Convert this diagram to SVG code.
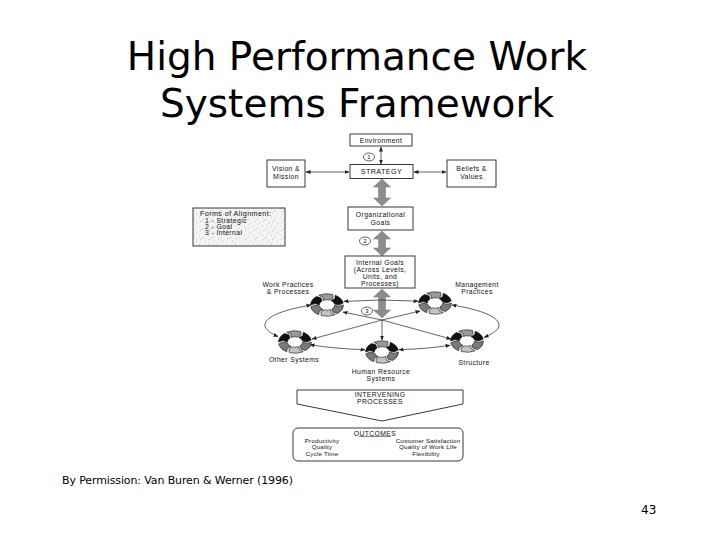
<svg xmlns="http://www.w3.org/2000/svg" width="728" height="546" viewBox="0 0 728 546">
<style>
.t{font-family:"Liberation Sans",Arial,sans-serif;font-size:6.8px;letter-spacing:0.4px;fill:#111;text-anchor:middle}
.tl{text-anchor:start}
.box{fill:#fff;stroke:#222;stroke-width:0.9}
.thin{fill:none;stroke:#222;stroke-width:0.7}
.big{fill:#8c8c8c;stroke:#777;stroke-width:0.5}
.title{font-family:"DejaVu Sans",Verdana,sans-serif;font-size:39px;fill:#000;text-anchor:middle}
.foot{font-family:"DejaVu Sans",Verdana,sans-serif;font-size:11px;fill:#000}
.num{fill:#fff;stroke:#222;stroke-width:0.7}
.seg{stroke:#111;stroke-width:0.6;vector-effect:non-scaling-stroke}
</style>
<defs>
<marker id="ah" viewBox="0 0 10 10" refX="9" refY="5" markerWidth="5" markerHeight="5" orient="auto-start-reverse" markerUnits="userSpaceOnUse"><path d="M0,1 L10,5 L0,9 Z" fill="#222"/></marker>
<pattern id="speck" width="9" height="9" patternUnits="userSpaceOnUse">
<rect width="9" height="9" fill="#f4f4f4"/>
<path d="M1,1 l1,0.5 M5,3 l0.5,1 M2,6 l1,-0.5 M7,7 l1,0.5 M6,0.5 l0.5,0.5 M3.5,4.5 l0.6,0" stroke="#999" stroke-width="0.6"/>
</pattern>
<g id="ring">
<path class="seg" d="M15,0 A15,15 0 0 1 9.64,11.49 L5.5,9.53 L4.5,5.36 A7,7 0 0 0 7,0 L10.83,1.91 Z" fill="#7a7a7a"/>
<path class="seg" d="M7.5,12.99 A15,15 0 0 1 -5.13,14.1 L-5.5,9.53 L-2.39,6.58 A7,7 0 0 0 3.5,6.06 L3.76,10.34 Z" fill="#c4c4c4"/>
<path class="seg" d="M-7.5,12.99 A15,15 0 0 1 -14.77,2.6 L-11,0 L-6.89,1.22 A7,7 0 0 0 -3.5,6.06 L-7.07,8.43 Z" fill="#7a7a7a"/>
<path class="seg" d="M-15,0 A15,15 0 0 1 -9.64,-11.49 L-5.5,-9.53 L-4.5,-5.36 A7,7 0 0 0 -7,0 L-10.83,-1.91 Z" fill="#111"/>
<path class="seg" d="M-7.5,-12.99 A15,15 0 0 1 5.13,-14.1 L5.5,-9.53 L2.39,-6.58 A7,7 0 0 0 -3.5,-6.06 L-3.76,-10.34 Z" fill="#9a9a9a"/>
<path class="seg" d="M7.5,-12.99 A15,15 0 0 1 14.77,-2.6 L11,0 L6.89,-1.22 A7,7 0 0 0 3.5,-6.06 L7.07,-8.43 Z" fill="#111"/>
</g>
</defs>
<rect width="728" height="546" fill="#fff"/>

<g id="title">
<text class="title" x="357" y="70">High Performance Work</text>
<text class="title" x="357" y="117">Systems Framework</text>
</g>

<g id="connectors">
<line class="thin" x1="381" y1="147" x2="381" y2="164" marker-start="url(#ah)" marker-end="url(#ah)"/>
<line class="thin" x1="306" y1="172" x2="349" y2="172" marker-start="url(#ah)" marker-end="url(#ah)"/>
<line class="thin" x1="414" y1="172" x2="446" y2="172" marker-start="url(#ah)" marker-end="url(#ah)"/>
<polygon class="big" points="382,179 390.5,187 385.5,187 385.5,198 390.5,198 382,206 373.5,198 378.5,198 378.5,187 373.5,187"/>
<polygon class="big" points="382,231 390.5,239 385.5,239 385.5,248 390.5,248 382,256 373.5,248 378.5,248 378.5,239 373.5,239"/>
<polygon class="big" points="382,289 390.5,297 385.5,297 385.5,310 390.5,310 382,318 373.5,310 378.5,310 378.5,297 373.5,297"/>
<path class="thin" d="M344,301.4 A117,25 0 0 1 418,301.2" marker-start="url(#ah)" marker-end="url(#ah)"/>
<path class="thin" d="M452,305 A117,25 0 0 1 484,337.3" marker-start="url(#ah)" marker-end="url(#ah)"/>
<path class="thin" d="M450,345.3 A117,25 0 0 1 399,349.7" marker-start="url(#ah)" marker-end="url(#ah)"/>
<path class="thin" d="M365,349.7 A117,25 0 0 1 310,344.7" marker-start="url(#ah)" marker-end="url(#ah)"/>
<path class="thin" d="M278,336.5 A117,25 0 0 1 311,305.1" marker-start="url(#ah)" marker-end="url(#ah)"/>
<line class="thin" x1="382" y1="320" x2="343" y2="312" marker-end="url(#ah)"/>
<line class="thin" x1="382" y1="320" x2="420" y2="311" marker-end="url(#ah)"/>
<line class="thin" x1="382" y1="320" x2="312" y2="339" marker-end="url(#ah)"/>
<line class="thin" x1="382" y1="320" x2="451" y2="339" marker-end="url(#ah)"/>
<line class="thin" x1="382" y1="320" x2="382" y2="340" marker-end="url(#ah)"/>
</g>

<g id="environment">
<rect class="box" x="350" y="134" width="62" height="12"/>
<text class="t" x="381" y="142.5">Environment</text>
</g>
<g id="strategy">
<rect class="box" x="350" y="164.5" width="63" height="14"/>
<text class="t" x="381.5" y="174" style="font-size:7.2px">STRATEGY</text>
</g>
<g id="vision">
<rect class="box" x="267" y="160" width="38" height="27"/>
<text class="t" x="286" y="171">Vision &amp;</text>
<text class="t" x="286" y="178.5">Mission</text>
</g>
<g id="beliefs">
<rect class="box" x="447" y="160" width="49" height="27"/>
<text class="t" x="471.5" y="171">Beliefs &amp;</text>
<text class="t" x="471.5" y="178.5">Values</text>
</g>
<g id="alignment">
<rect x="193" y="208" width="92" height="38" fill="url(#speck)" stroke="#222" stroke-width="0.9"/>
<text class="t tl" x="200" y="216" style="font-size:7.2px">Forms of Alignment:</text>
<text class="t tl" x="205" y="222.5">1 - Strategic</text>
<text class="t tl" x="205" y="228.5">2 - Goal</text>
<text class="t tl" x="205" y="234.5">3 - Internal</text>
</g>
<g id="orggoals">
<rect class="box" x="348" y="207" width="65" height="23"/>
<text class="t" x="380.5" y="216.5">Organizational</text>
<text class="t" x="380.5" y="224.5">Goals</text>
</g>
<g id="internalgoals">
<rect class="box" x="345" y="256" width="70" height="32"/>
<text class="t" x="380" y="264.5">Internal Goals</text>
<text class="t" x="380" y="271.5">(Across Levels,</text>
<text class="t" x="380" y="278.5">Units, and</text>
<text class="t" x="380" y="285.5">Processes)</text>
</g>
<g id="num1"><ellipse class="num" cx="369" cy="157" rx="5.5" ry="4"/><text class="t" x="369" y="159.3" style="font-size:6px;letter-spacing:0">1</text></g>
<g id="num2"><ellipse class="num" cx="365" cy="241" rx="5.5" ry="4"/><text class="t" x="365" y="243.3" style="font-size:6px;letter-spacing:0">2</text></g>
<g id="num3"><ellipse class="num" cx="367" cy="311" rx="5.5" ry="4"/><text class="t" x="367" y="313.3" style="font-size:6px;letter-spacing:0">3</text></g>

<g id="workpractices">
<use href="#ring" transform="translate(327,305) scale(1.1,0.75)"/>
<text class="t" x="288" y="287">Work Practices</text>
<text class="t" x="288" y="294">&amp; Processes</text>
</g>
<g id="management">
<use href="#ring" transform="translate(435,303) scale(1.1,0.75)"/>
<text class="t" x="477" y="287">Management</text>
<text class="t" x="477" y="294">Practices</text>
</g>
<g id="othersystems">
<use href="#ring" transform="translate(295,342) scale(1.1,0.75)"/>
<text class="t" x="294" y="361.5">Other Systems</text>
</g>
<g id="hrsystems">
<use href="#ring" transform="translate(382,352) scale(1.1,0.75)"/>
<text class="t" x="381" y="374">Human Resource</text>
<text class="t" x="381" y="381">Systems</text>
</g>
<g id="structure">
<use href="#ring" transform="translate(467,341) scale(1.1,0.75)"/>
<text class="t" x="474" y="364.5">Structure</text>
</g>

<g id="intervening">
<polygon points="297,390 463,390 463,404 382,421 297,404" fill="#fff" stroke="#222" stroke-width="0.9"/>
<text class="t" x="380" y="397">INTERVENING</text>
<text class="t" x="380" y="404">PROCESSES</text>
</g>
<g id="outcomes">
<rect x="293" y="428" width="170" height="33" rx="5" fill="#fff" stroke="#222" stroke-width="0.9"/>
<text class="t" x="375" y="435.5">OUTCOMES</text>
<line x1="359" y1="436.5" x2="391" y2="436.5" stroke="#111" stroke-width="0.5"/>
<text class="t" x="322" y="442.5" style="font-size:6.2px;letter-spacing:0.2px">Productivity</text>
<text class="t" x="322" y="449" style="font-size:6.2px;letter-spacing:0.2px">Quality</text>
<text class="t" x="322" y="455.5" style="font-size:6.2px;letter-spacing:0.2px">Cycle Time</text>
<text class="t" x="428" y="442.5" style="font-size:6.2px;letter-spacing:0.2px">Customer Satisfaction</text>
<text class="t" x="428" y="449" style="font-size:6.2px;letter-spacing:0.2px">Quality of Work Life</text>
<text class="t" x="426" y="455.5" style="font-size:6.2px;letter-spacing:0.2px">Flexibility</text>
</g>

<g id="footer">
<text class="foot" x="62" y="484" textLength="231">By Permission: Van Buren &amp; Werner (1996)</text>
<text class="foot" x="641" y="514" style="font-size:12px">43</text>
</g>
</svg>
